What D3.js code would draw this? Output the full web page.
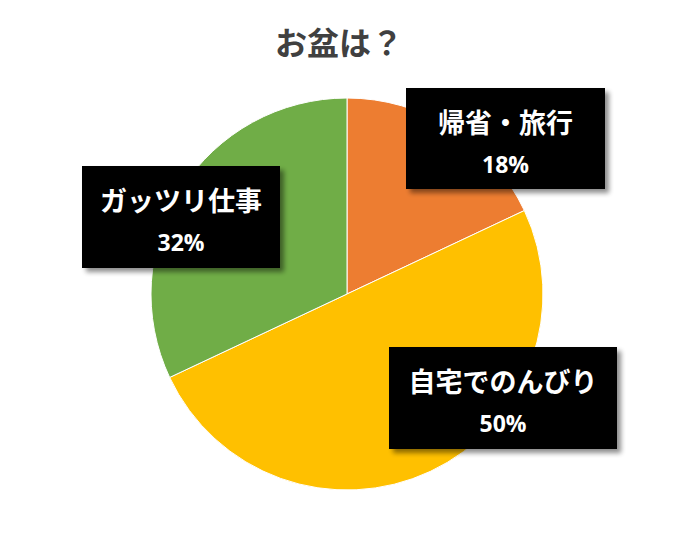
<!DOCTYPE html>
<html>
<head>
<meta charset="utf-8">
<script src="https://d3js.org/d3.v7.min.js"></script>
<style>
  body { margin: 0; background: #fff; }
</style>
</head>
<body>
<div id="chart"></div>
<script>
const title = "お盆は？";
const categories = ["帰省・旅行", "自宅でのんびり", "ガッツリ仕事"];
const values = [18, 50, 32];
const percentLabels = ["18%", "50%", "32%"];
const colors = ["#ED7D31", "#FFC000", "#70AD47"];

const width = 685, height = 541;
const cx = 347, cy = 294, radius = 196;

const svg = d3.select("#chart").append("svg")
  .attr("width", width)
  .attr("height", height);

// shadow for the label boxes
const defs = svg.append("defs");
const filter = defs.append("filter").attr("id", "shadow")
  .attr("x", "-10%").attr("y", "-10%").attr("width", "130%").attr("height", "140%");
filter.append("feGaussianBlur").attr("in", "SourceAlpha").attr("stdDeviation", 2.5);
filter.append("feOffset").attr("dx", 4).attr("dy", 4).attr("result", "off");
filter.append("feComponentTransfer").append("feFuncA").attr("type", "linear").attr("slope", 0.45);
const merge = filter.append("feMerge");
merge.append("feMergeNode");
merge.append("feMergeNode").attr("in", "SourceGraphic");

svg.append("text")
  .attr("x", 339)
  .attr("y", 55)
  .attr("text-anchor", "middle")
  .style("font-family", "'Noto Sans CJK JP', sans-serif")
  .style("font-size", "32px")
  .style("font-weight", "bold")
  .style("fill", "#404040")
  .text(title);

const pie = d3.pie().sort(null).value(d => d);
const arc = d3.arc().innerRadius(0).outerRadius(radius);
const arcs = pie(values);

const g = svg.append("g").attr("transform", `translate(${cx},${cy})`);
g.selectAll("path")
  .data(arcs)
  .join("path")
  .attr("d", arc)
  .attr("fill", (d, i) => colors[i])
  .attr("stroke", "#fff")
  .attr("stroke-width", 1);

// label box placement (offsets relative to pie centre)
const boxes = [
  { x: 59, y: -206, w: 199, h: 101 },
  { x: 42, y: 53, w: 228, h: 102 },
  { x: -265, y: -128, w: 198, h: 102 }
];

const labels = svg.append("g").attr("transform", `translate(${cx},${cy})`);
arcs.forEach(function(d, i) {
  const b = boxes[i];
  const lg = labels.append("g");
  lg.append("rect")
    .attr("x", b.x).attr("y", b.y)
    .attr("width", b.w).attr("height", b.h)
    .attr("fill", "#000")
    .attr("filter", "url(#shadow)");
  lg.append("text")
    .attr("x", b.x + b.w / 2)
    .attr("y", b.y + 45)
    .attr("text-anchor", "middle")
    .style("font-family", "'Noto Sans CJK JP', sans-serif")
    .style("font-size", "27px")
    .style("font-weight", "bold")
    .style("fill", "#fff")
    .text(categories[i]);
  lg.append("text")
    .attr("x", b.x + b.w / 2)
    .attr("y", b.y + 85)
    .attr("text-anchor", "middle")
    .style("font-family", "'Open Sans', sans-serif")
    .style("font-size", "23px")
    .style("font-weight", "bold")
    .style("fill", "#fff")
    .text(percentLabels[i]);
});
</script>
</body>
</html>
